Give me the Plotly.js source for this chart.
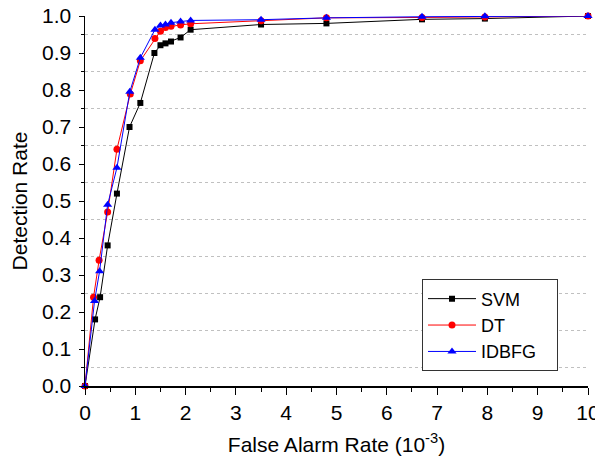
<!DOCTYPE html>
<html>
<head>
<meta charset="utf-8">
<script src="https://cdn.plot.ly/plotly-3.0.1.min.js"></script>
<style>html,body{margin:0;padding:0;background:#fff;}#chart{width:595px;height:466px;}</style>
</head>
<body>
<div id="chart"></div>
<script>
var seriesNames = ["SVM", "DT", "IDBFG"];
var svmX = [0, 0.2, 0.3, 0.45, 0.635, 0.885, 1.1, 1.38, 1.5, 1.6, 1.71, 1.9, 2.1, 3.5, 4.8, 6.7, 7.95, 10];
var svmY = [0, 0.18, 0.24, 0.38, 0.52, 0.70, 0.765, 0.90, 0.921, 0.926, 0.931, 0.942, 0.963, 0.977, 0.98, 0.991, 0.993, 1.0];
var dtX = [0, 0.17, 0.28, 0.45, 0.635, 0.9, 1.1, 1.39, 1.5, 1.6, 1.71, 1.9, 2.1, 3.5, 4.8, 6.7, 7.95, 10];
var dtY = [0, 0.24, 0.34, 0.47, 0.64, 0.789, 0.879, 0.939, 0.959, 0.969, 0.972, 0.976, 0.979, 0.987, 0.995, 0.996, 0.997, 1.0];
var idX = [0, 0.19, 0.29, 0.45, 0.635, 0.89, 1.1, 1.39, 1.5, 1.6, 1.71, 1.9, 2.1, 3.5, 4.8, 6.7, 7.95, 10];
var idY = [0, 0.23, 0.31, 0.49, 0.59, 0.795, 0.887, 0.963, 0.974, 0.977, 0.982, 0.985, 0.988, 0.99, 0.995, 0.998, 0.999, 1.0];
var xTitle = "False Alarm Rate (10<sup>-3</sup>)";
var yTitle = "Detection Rate";

var FONT = "Liberation Sans, Arial, sans-serif";
var PAD = "\u00a0\u00a0\u00a0";

var traces = [
  {x: svmX, y: svmY, name: seriesNames[0] + PAD, type: "scatter", mode: "lines+markers", cliponaxis: false,
   line: {color: "#000000", width: 1}, marker: {symbol: "square", size: 6, color: "#000000"}},
  {x: dtX, y: dtY, name: seriesNames[1] + PAD, type: "scatter", mode: "lines+markers", cliponaxis: false,
   line: {color: "#ff0000", width: 1}, marker: {symbol: "circle", size: 7, color: "#ff0000"}},
  {x: idX, y: idY, name: seriesNames[2] + PAD, type: "scatter", mode: "lines+markers", cliponaxis: false,
   line: {color: "#0000ff", width: 1}, marker: {symbol: "triangle-up", size: 8, color: "#0000ff"}}
];

var layout = {
  width: 595, height: 466,
  margin: {l: 85, r: 7, t: 16, b: 80, pad: 0},
  paper_bgcolor: "#ffffff", plot_bgcolor: "#ffffff",
  font: {family: FONT, size: 21, color: "#000000"},
  showlegend: true,
  legend: {x: 0.67, y: 0.288, xanchor: "left", yanchor: "top", bordercolor: "#333333", borderwidth: 1,
           bgcolor: "#ffffff", font: {family: FONT, size: 18, color: "#000"}, itemwidth: 48, tracegroupgap: 0},
  xaxis: {range: [0, 10], dtick: 1, tick0: 0, ticks: "outside", ticklen: 7, tickwidth: 1, tickcolor: "#000",
          showline: true, linecolor: "#000", linewidth: 1.5, showgrid: false, zeroline: false,
          ticklabeloverflow: "allow",
          tickfont: {family: FONT, size: 21, color: "#000"},
          minor: {dtick: 0.5, ticks: "outside", ticklen: 4, tickcolor: "#000", showgrid: false},
          title: {text: xTitle, font: {family: FONT, size: 21, color: "#000"}, standoff: 14}},
  yaxis: {range: [0, 1], dtick: 0.1, tick0: 0, tickformat: ".1f", ticks: "outside", ticklen: 5, tickwidth: 1, tickcolor: "#000",
          showline: true, linecolor: "#000", linewidth: 1.5, showgrid: false, zeroline: false,
          ticklabelstandoff: 3,
          tickfont: {family: FONT, size: 21, color: "#000"},
          minor: {dtick: 0.05, ticks: "outside", ticklen: 3, tickcolor: "#000", showgrid: true, gridcolor: "#c0c0c0", griddash: "dot", gridwidth: 1},
          title: {text: yTitle, font: {family: FONT, size: 21, color: "#000"}, standoff: 8}},
  xaxis2: {overlaying: "x", anchor: "y", side: "top", range: [0, 10], dtick: 1, ticks: "inside", ticklen: 7, tickcolor: "#000",
           showticklabels: false, showline: true, linecolor: "#000", linewidth: 1.5, showgrid: false, zeroline: false,
           minor: {dtick: 0.5, ticks: "inside", ticklen: 4, tickcolor: "#000"}},
  yaxis2: {overlaying: "y", anchor: "x", side: "right", range: [0, 1], dtick: 0.1, ticks: "inside", ticklen: 5, tickcolor: "#000",
           showticklabels: false, showline: true, linecolor: "#000", linewidth: 1.5, showgrid: false, zeroline: false,
           minor: {dtick: 0.05, ticks: "inside", ticklen: 3, tickcolor: "#000"}}
};

Plotly.newPlot("chart", traces, layout, {displayModeBar: false, staticPlot: true});
</script>
</body>
</html>
